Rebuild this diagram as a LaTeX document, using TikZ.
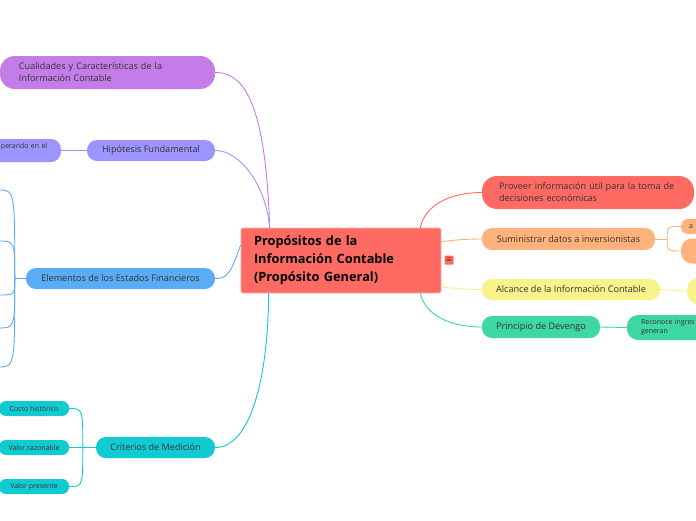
\documentclass[tikz,border=0pt]{standalone}
\usepackage{fontspec}
\setmainfont{Open Sans}
\usetikzlibrary{positioning, calc}
\definecolor{rootred}{HTML}{FF6B63}
\definecolor{cualpurple}{HTML}{C47DE8}
\definecolor{hipoviolet}{HTML}{9D94FF}
\definecolor{elemblue}{HTML}{5AACF7}
\definecolor{critcyan}{HTML}{10CBD2}
\definecolor{sumiorange}{HTML}{FFB27B}
\definecolor{alcyellow}{HTML}{F8F28B}
\definecolor{devgreen}{HTML}{3ED6A2}
\definecolor{textdark}{HTML}{333333}
\tikzset{
  % --- central topic ---
  rootbox/.style={draw=rootred!55!white, line width=0.6pt, fill=rootred,
    rounded corners=2pt, minimum width=200pt, minimum height=65pt,
    text width=174pt, inner xsep=13pt, align=left,
    font=\fontsize{12.8}{18}\selectfont\bfseries, text=black},
  % --- main branches (pills) ---
  topic/.style={rounded corners=10pt, minimum height=21pt, inner xsep=0pt,
    inner ysep=0pt, align=center, text=textdark,
    font=\fontsize{9.1}{12}\selectfont},
  topictwo/.style={topic, rounded corners=15pt, minimum height=33pt, align=left},
  % --- sub branches ---
  subtopic/.style={rounded corners=7pt, minimum height=15pt, inner xsep=0pt,
    inner ysep=0pt, align=center, text=textdark,
    font=\fontsize{7}{8.5}\selectfont},
  % --- connectors ---
  link/.style={line width=0.9pt},
}
\begin{document}
\begin{tikzpicture}[x=1pt, y=-1pt]
    \clip (0,0) rectangle (696,520);
    \fill[white] (0,0) rectangle (696,520);
    % central topic
    \node[rootbox] (root) at (341,260.5) {Propósitos de la\\Información Contable\\(Propósito General)};
    \node[fill=rootred, rounded corners=1pt, minimum size=9pt, inner sep=0pt,
      font=\fontsize{7}{7}\selectfont] (note) at (449,260) {\(\equiv\)};
    % left branches
    \node[topictwo, fill=cualpurple, minimum width=215pt, text width=177pt] (cual) at (107.5,72.5)
      {Cualidades y Características de la\\Información Contable};
    \node[topic, fill=hipoviolet, minimum width=128pt] (hipo) at (151,150.5) {Hipótesis Fundamental};
    \node[subtopic, fill=hipoviolet, minimum width=82pt, minimum height=23pt,
      text width=80pt, align=left, rounded corners=10pt] (hipo1) at (20,150.5)
      {\hspace*{21pt}perando en el\\[1pt]\mbox{}};
    \node[topic, fill=elemblue, minimum width=189pt] (elem) at (120.5,278.5) {Elementos de los Estados Financieros};
    \node[topic, fill=critcyan, minimum width=119pt] (crit) at (155.5,447.5) {Criterios de Medición};
    \node[subtopic, fill=critcyan, minimum width=70pt] (crit1) at (34,408.5) {Costo histórico};
    \node[subtopic, fill=critcyan, minimum width=70pt] (crit2) at (34,447.5) {Valor razonable};
    \node[subtopic, fill=critcyan, minimum width=70pt] (crit3) at (34,486.5) {Valor presente};
    % right branches
    \node[topictwo, fill=rootred, minimum width=212pt, text width=178pt] (prov) at (588,192.5)
      {Proveer información útil para la toma de\\decisiones económicas};
    \node[topic, fill=sumiorange, minimum width=173pt, minimum height=22pt] (sumi) at (568.5,239) {Suministrar datos a inversionistas};
    \node[subtopic, fill=sumiorange, minimum width=40pt, text width=24pt, align=left] (sumi1) at (701,226.5) {a};
    \node[subtopic, fill=sumiorange, minimum width=46pt, minimum height=25pt, rounded corners=11pt] (sumi2) at (704,251) {};
    \node[topic, fill=alcyellow, minimum width=178pt] (alc) at (571,289.5) {Alcance de la Información Contable};
    \node[subtopic, fill=alcyellow, minimum width=46pt, minimum height=28pt, rounded corners=13pt] (alc1) at (710,291) {};
    \node[topic, fill=devgreen, minimum width=118pt, minimum height=22pt] (dev) at (541,327) {Principio de Devengo};
    \node[subtopic, fill=devgreen, minimum width=106pt, minimum height=25pt, rounded corners=11pt,
      text width=78pt, align=left] (dev1) at (680,327.5) {Reconoce ingres\\generan};
    % connectors from the central topic
    \draw[link, cualpurple] ([xshift=29pt]root.north west) .. controls (266,120) and (250,72) .. (cual.east);
    \draw[link, hipoviolet] ([xshift=29pt]root.north west) .. controls (266,185) and (240,150.5) .. (hipo.east);
    \draw[link, elemblue] ([yshift=-17pt]root.north west) .. controls (230,277) and (225,278.5) .. (elem.east);
    \draw[link, critcyan] ([xshift=28pt]root.south west) .. controls (268,380) and (250,447.5) .. (crit.east);
    \draw[link, rootred] ([xshift=-21pt]root.north east) .. controls (425,205) and (450,192.5) .. (prov.west);
    \draw[link, sumiorange] ([yshift=-14pt]root.north east) .. controls (455,240) and (465,239) .. (sumi.west);
    \draw[link, alcyellow] ([yshift=6pt]root.south east) .. controls (455,288) and (465,289.5) .. (alc.west);
    \draw[link, devgreen] ([xshift=-21pt]root.south east) .. controls (425,315) and (450,327) .. (dev.west);
    % sub branch connectors
    \draw[link, hipoviolet] (hipo.west) -- (hipo1.east);
    \coordinate (elemhub) at ([xshift=-11pt]elem.west);
    \draw[link, elemblue] (elem.west) -- (elemhub);
    \foreach \i/\y in {1/190,2/241,3/295,4/328,5/367}{
      \coordinate (elem\i) at (-2,\y);
      \draw[link, elemblue] (elemhub) .. controls (elemhub |- elem\i) .. (elem\i);
    }
    \coordinate (crithub) at ([xshift=-13pt]crit.west);
    \draw[link, critcyan] (crit.west) -- (crit2.east);
    \foreach \c in {crit1,crit3}{
      \draw[link, critcyan] (crithub) .. controls (crithub |- \c.east) .. (\c.east);
    }
    \coordinate (sumihub) at ([xshift=12pt]sumi.east);
    \draw[link, sumiorange] (sumi.east) -- (sumihub);
    \foreach \c in {sumi1,sumi2}{
      \draw[link, sumiorange] (sumihub) .. controls (sumihub |- \c.west) .. (\c.west);
    }
    \draw[link, alcyellow] (alc.east) -- (alc1.west);
    \draw[link, devgreen] (dev.east) -- (dev1.west);
  \end{tikzpicture}
\end{document}
